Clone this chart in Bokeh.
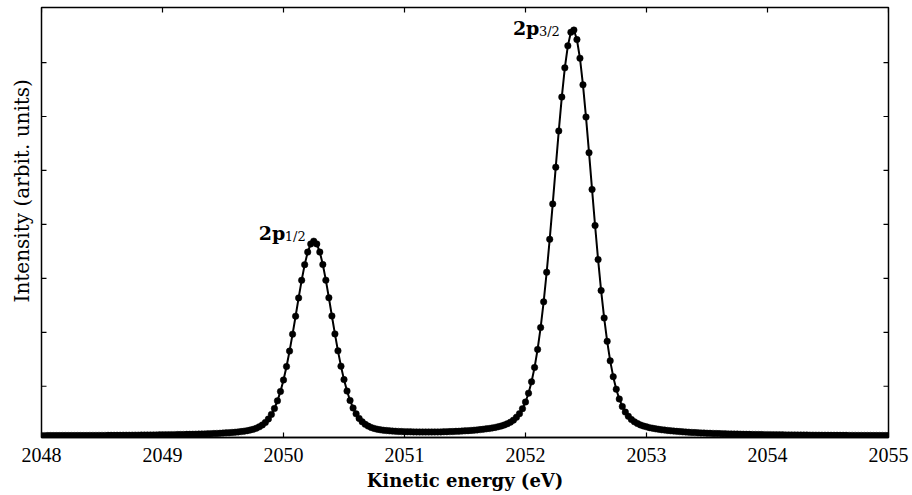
import numpy as np
from bokeh.plotting import figure
from bokeh.models import Range1d, FixedTicker, ColumnDataSource, Title
from bokeh.embed import file_html
from bokeh.resources import INLINE
from bokeh.core.properties import value

# Photoelectron spectrum sampled every 25 meV starting at 2048 eV
E_START = 2048.0
E_STEP = 0.025

intensity = [
    0.084, 0.084, 0.085, 0.085, 0.085, 0.085, 0.085, 0.086, 0.086, 0.086,
    0.086, 0.086, 0.087, 0.087, 0.087, 0.087, 0.088, 0.088, 0.088, 0.089,
    0.089, 0.089, 0.090, 0.090, 0.090, 0.091, 0.091, 0.092, 0.092, 0.092,
    0.093, 0.094, 0.094, 0.095, 0.095, 0.096, 0.096, 0.097, 0.098, 0.099,
    0.099, 0.100, 0.101, 0.102, 0.103, 0.104, 0.105, 0.106, 0.108, 0.109,
    0.110, 0.112, 0.113, 0.115, 0.117, 0.119, 0.121, 0.124, 0.126, 0.129,
    0.132, 0.136, 0.140, 0.144, 0.148, 0.154, 0.160, 0.168, 0.177, 0.188,
    0.202, 0.222, 0.248, 0.282, 0.330, 0.393, 0.478, 0.588, 0.729, 0.904,
    1.116, 1.365, 1.651, 1.965, 2.298, 2.637, 2.963, 3.254, 3.486, 3.637,
    3.689,
    3.637, 3.487, 3.256, 2.966, 2.640, 2.302, 1.970, 1.656, 1.372,
    1.123, 0.911, 0.737, 0.597, 0.488, 0.404, 0.341, 0.295, 0.261, 0.235,
    0.217, 0.203, 0.193, 0.185, 0.179, 0.174, 0.169, 0.166, 0.163, 0.160,
    0.158, 0.156, 0.155, 0.154, 0.153, 0.152, 0.152, 0.152, 0.152, 0.152,
    0.153, 0.153, 0.154, 0.156, 0.157, 0.159, 0.161, 0.164, 0.166, 0.170,
    0.173, 0.177, 0.181, 0.186, 0.191, 0.196, 0.203, 0.210, 0.217, 0.227,
    0.237, 0.250, 0.264, 0.282, 0.305, 0.334, 0.372, 0.424, 0.492, 0.585,
    0.708, 0.871, 1.082, 1.349, 1.683, 2.087, 2.564, 3.113, 3.723, 4.380,
    5.060, 5.733, 6.360, 6.901, 7.309, 7.561, 7.602, 7.425, 7.080, 6.587,
    5.989, 5.329, 4.648, 3.979, 3.347, 2.773, 2.266, 1.832, 1.471, 1.178,
    0.945, 0.764, 0.625, 0.521, 0.443, 0.385, 0.341, 0.309, 0.283, 0.263,
    0.247, 0.233, 0.222, 0.211, 0.202, 0.194, 0.187, 0.181, 0.175, 0.169,
    0.164, 0.160, 0.155, 0.151, 0.148, 0.144, 0.141, 0.138, 0.135, 0.133,
    0.130, 0.128, 0.126, 0.124, 0.122, 0.120, 0.119, 0.117, 0.116, 0.114,
    0.113, 0.112, 0.110, 0.109, 0.108, 0.107, 0.106, 0.105, 0.104, 0.103,
    0.103, 0.102, 0.101, 0.100, 0.100, 0.099, 0.098, 0.098, 0.097, 0.097,
    0.096, 0.096, 0.095, 0.095, 0.094, 0.094, 0.093, 0.093, 0.092, 0.092,
    0.092, 0.091, 0.091, 0.091, 0.090, 0.090, 0.090, 0.089, 0.089, 0.089,
    0.088, 0.088, 0.088, 0.088, 0.088, 0.087, 0.087, 0.087, 0.087, 0.086,
    0.086,
]
energy = [round(E_START + i * E_STEP, 3) for i in range(len(intensity))]

x_ticks = [2048, 2049, 2050, 2051, 2052, 2053, 2054, 2055]
y_ticks = [1, 2, 3, 4, 5, 6, 7]

peak_main = ["2p", "2p"]
peak_sub = ["1/2", "3/2"]
split_energy = 2051.0

X_LO, X_HI = 2048, 2055
Y_LO, Y_HI = 0.05, 8.02
TICK_LEN = 5

LABEL_FONT = "DejaVu Serif"
TICK_FONT = "Liberation Serif"

p = figure(
    width=912, height=495,
    x_range=Range1d(X_LO, X_HI), y_range=Range1d(Y_LO, Y_HI),
    output_backend="svg", toolbar_location=None,
    min_border_left=41, min_border_right=24,
    min_border_top=7, min_border_bottom=58,
)
p.grid.visible = False
p.outline_line_color = "black"
p.outline_line_width = 1.5
p.background_fill_color = "white"
p.border_fill_color = "white"

# bottom axis carries the only numeric labels
xa = p.xaxis[0]
xa.ticker = FixedTicker(ticks=x_ticks)
xa.major_tick_in = TICK_LEN
xa.major_tick_out = 0
xa.minor_tick_line_color = None
xa.axis_line_width = 1.5
xa.major_tick_line_width = 1.2
xa.major_label_text_font = TICK_FONT
xa.major_label_text_font_size = "20px"
xa.major_label_text_color = "black"
xa.major_label_standoff = 10
xa.axis_label = "Kinetic energy (eV)"
xa.axis_label_text_font = LABEL_FONT
xa.axis_label_text_font_style = "bold"
xa.axis_label_text_font_size = "18px"
xa.axis_label_text_color = "black"
xa.axis_label_standoff = 5

# intensity scale is arbitrary: unlabeled inward ticks only
p.yaxis.visible = False
tick_style = dict(length=TICK_LEN, length_units="screen", line_color="black", line_width=1.2)
p.ray(x=[X_LO] * len(y_ticks), y=y_ticks, angle=0, **tick_style)
p.ray(x=[X_HI] * len(y_ticks), y=y_ticks, angle=np.pi, **tick_style)
p.ray(x=x_ticks, y=[Y_HI] * len(x_ticks), angle=-np.pi / 2, **tick_style)

# vertical axis caption, starting about a third of the way up the frame
p.add_layout(Title(
    text="Intensity (arbit. units)", align="left", offset=135,
    text_font=LABEL_FONT, text_font_size="20px", text_font_style="normal",
    text_color="black", vertical_align="top", standoff=12,
), "left")

# spectrum: line through the measured points plus the points themselves
p.line(energy, intensity, line_color="black", line_width=2)
p.scatter(energy, intensity, size=6.5, fill_color="black", line_color="black", line_width=0.5)

# peak labels placed next to each maximum
arr = np.array(intensity)
en = np.array(energy)
left_idx = int(np.argmax(np.where(en < split_energy, arr, -1)))
right_idx = int(np.argmax(np.where(en > split_energy, arr, -1)))
peaks = ColumnDataSource(dict(
    x=[energy[left_idx], energy[right_idx]],
    y=[intensity[left_idx], intensity[right_idx]],
    main=peak_main,
    sub=peak_sub,
    mx=[-55, -61],
    my=[-8, -2],
    sx=[-29, -35],
    sy=[-5, 1],
))
p.text(x="x", y="y", text="main", source=peaks, x_offset="mx", y_offset="my",
       text_font=value(LABEL_FONT), text_font_style="bold", text_font_size="19px",
       text_align="left", text_baseline="alphabetic", text_color="black")
p.text(x="x", y="y", text="sub", source=peaks, x_offset="sx", y_offset="sy",
       text_font=value(LABEL_FONT), text_font_size="13px",
       text_align="left", text_baseline="alphabetic", text_color="black")

open("out.html", "w").write(file_html(p, INLINE))
